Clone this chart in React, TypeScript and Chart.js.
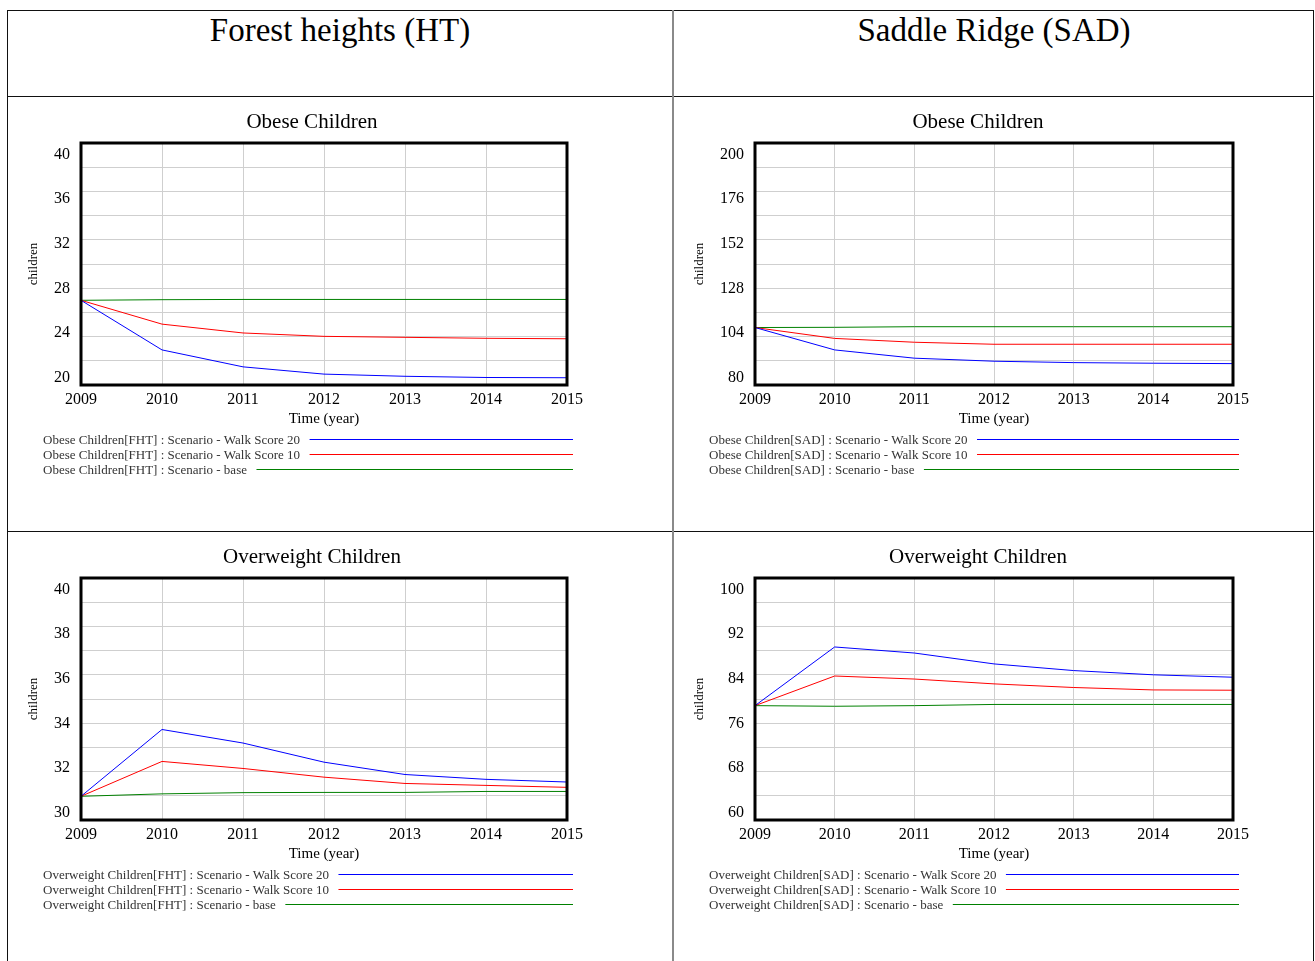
import React, { useEffect, useRef } from "react";
import { Chart, registerables } from "chart.js";

Chart.register(...registerables);

// ---------- data ----------
const years = [2009, 2010, 2011, 2012, 2013, 2014, 2015];

const fhtObeseWS20 = [27.0, 22.9, 21.5, 20.9, 20.72, 20.62, 20.6];
const fhtObeseWS10 = [27.0, 25.03, 24.3, 24.02, 23.94, 23.86, 23.82];
const fhtObeseBase = [27.0, 27.05, 27.07, 27.07, 27.07, 27.07, 27.07];
const fhtObeseTicks = ["40", "36", "32", "28", "24", "20"];

const sadObeseWS20 = [108.5, 97.4, 93.3, 91.8, 91.1, 90.8, 90.6];
const sadObeseWS10 = [108.5, 103.1, 101.2, 100.2, 100.2, 100.2, 100.2];
const sadObeseBase = [108.5, 108.6, 108.9, 108.9, 108.9, 108.9, 108.9];
const sadObeseTicks = ["200", "176", "152", "128", "104", "80"];

const fhtOverWS20 = [30.98, 33.74, 33.18, 32.39, 31.88, 31.68, 31.57];
const fhtOverWS10 = [30.98, 32.42, 32.13, 31.77, 31.51, 31.43, 31.35];
const fhtOverBase = [30.98, 31.08, 31.13, 31.14, 31.14, 31.18, 31.18];
const fhtOverTicks = ["40", "38", "36", "34", "32", "30"];

const sadOverWS20 = [78.9, 88.6, 87.6, 85.8, 84.7, 84.0, 83.6];
const sadOverWS10 = [78.9, 83.8, 83.3, 82.5, 81.9, 81.5, 81.45];
const sadOverBase = [78.9, 78.8, 78.9, 79.1, 79.1, 79.1, 79.1];
const sadOverTicks = ["100", "92", "84", "76", "68", "60"];

const seriesColors = ["#0000ff", "#ff0000", "#008000"];
const scenarioNames = ["Scenario - Walk Score 20", "Scenario - Walk Score 10", "Scenario - base"];

const FONT = '"Liberation Serif", "Times New Roman", serif';

// ---------- plugin drawing Vensim-like decorations ----------
const vensimPlugin = {
  id: "vensim",
  afterDraw(chart: any, _args: any, opts: any) {
    const { ctx, chartArea: a } = chart;
    ctx.save();
    // frame
    ctx.strokeStyle = "#000";
    ctx.lineWidth = 3;
    ctx.strokeRect(a.left, a.top, a.right - a.left, a.bottom - a.top);

    // title
    ctx.fillStyle = "#000";
    ctx.textBaseline = "alphabetic";
    ctx.textAlign = "center";
    ctx.font = `21px ${FONT}`;
    ctx.fillText(opts.title, opts.titleX, a.top - 15.5);

    // y tick labels (evenly spaced inside plot, Vensim style)
    ctx.font = `16px ${FONT}`;
    ctx.textAlign = "right";
    const ticks: string[] = opts.yTicks;
    const c0 = a.top + 10.3;
    const c1 = a.bottom - 8.3;
    ticks.forEach((t, i) => {
      const cy = c0 + (i * (c1 - c0)) / (ticks.length - 1);
      ctx.fillText(t, a.left - 11, cy + 5.4);
    });

    // x tick labels
    ctx.textAlign = "center";
    const xs = chart.scales.x;
    (opts.xTicks as number[]).forEach((v) => {
      ctx.fillText(String(v), xs.getPixelForValue(v), a.bottom + 19);
    });

    // x title
    ctx.font = `15px ${FONT}`;
    ctx.fillText(opts.xTitle, (a.left + a.right) / 2, a.bottom + 37.5);

    // y title
    ctx.save();
    ctx.translate(opts.yTitleX, (a.top + a.bottom) / 2);
    ctx.rotate(-Math.PI / 2);
    ctx.font = `13px ${FONT}`;
    ctx.textAlign = "center";
    ctx.textBaseline = "middle";
    ctx.fillText(opts.yTitle, 0, 0);
    ctx.restore();

    // legend
    ctx.font = `13px ${FONT}`;
    ctx.textAlign = "left";
    ctx.textBaseline = "alphabetic";
    chart.data.datasets.forEach((ds: any, i: number) => {
      const y = Math.round(a.bottom + 53.7 + i * 15.2) + 0.5;
      ctx.fillStyle = "#333";
      ctx.fillText(ds.label, opts.legendX, y + 4);
      const w = ctx.measureText(ds.label).width;
      ctx.strokeStyle = ds.borderColor;
      ctx.lineWidth = 1;
      ctx.beginPath();
      ctx.moveTo(opts.legendX + w + 9.5, y);
      ctx.lineTo(a.right + 6, y);
      ctx.stroke();
    });
    ctx.restore();
  },
};

type ChartProps = {
  left: number;
  top: number;
  width: number;
  height: number;
  plotLeft: number;
  plotRight: number;
  title: string;
  varName: string;
  region: string;
  series: number[][];
  yMin: number;
  yMax: number;
  yStep: number;
  yTicks: string[];
};

function VensimChart(p: ChartProps) {
  const ref = useRef<HTMLCanvasElement>(null);
  useEffect(() => {
    if (!ref.current) return;
    const datasets = p.series.map((vals, i) => ({
      label: `${p.varName}[${p.region}] : ${scenarioNames[i]}`,
      data: years.map((x, j) => ({ x, y: vals[j] })),
      borderColor: seriesColors[i],
      backgroundColor: seriesColors[i],
      borderWidth: 1,
      pointRadius: 0,
      tension: 0,
      fill: false,
    }));
    const gridColor = "#cfcfcf";
    const chart = new Chart(ref.current, {
      type: "line",
      data: { datasets },
      options: {
        responsive: false,
        animation: false,
        devicePixelRatio: 1,
        layout: {
          padding: {
            left: p.plotLeft,
            right: p.width - p.plotRight,
            top: 46,
            bottom: p.height - 288,
          },
        },
        plugins: {
          legend: { display: false },
          tooltip: { enabled: false },
          title: { display: false },
          vensim: {
            title: p.title,
            titleX: 303,
            yTicks: p.yTicks,
            xTicks: years,
            xTitle: "Time (year)",
            yTitle: "children",
            yTitleX: 24.5,
            legendX: 34,
          },
        } as any,
        scales: {
          x: {
            type: "linear",
            min: years[0],
            max: years[years.length - 1],
            ticks: { stepSize: 1, display: false },
            grid: { color: gridColor, drawTicks: false },
            border: { display: false },
            afterFit: (s: any) => {
              s.height = 0;
            },
          },
          y: {
            type: "linear",
            min: p.yMin,
            max: p.yMax,
            ticks: { stepSize: p.yStep, display: false },
            grid: { color: gridColor, drawTicks: false },
            border: { display: false },
            afterFit: (s: any) => {
              s.width = 0;
            },
          },
        },
      } as any,
      plugins: [vensimPlugin],
    });
    return () => chart.destroy();
  }, []);
  return (
    <canvas
      ref={ref}
      width={p.width}
      height={p.height}
      style={{ position: "absolute", left: p.left, top: p.top, width: p.width, height: p.height }}
    />
  );
}

const lineStyle = (left: number, top: number, width: number, height: number, color = "#111"): React.CSSProperties => ({
  position: "absolute",
  left,
  top,
  width,
  height,
  background: color,
});

const headerStyle = (left: number, width: number): React.CSSProperties => ({
  position: "absolute",
  left,
  width,
  top: 13,
  textAlign: "center",
  fontFamily: FONT,
  fontSize: 33,
  lineHeight: "34px",
  color: "#000",
  whiteSpace: "nowrap",
});

export default function App() {
  return (
    <div
      style={{
        position: "fixed",
        left: 0,
        top: 0,
        width: 1315,
        height: 961,
        overflow: "hidden",
        background: "#fff",
      }}
    >
      <VensimChart
        left={9}
        top={97}
        width={663}
        height={433}
        plotLeft={72}
        plotRight={558}
        title="Obese Children"
        varName="Obese Children"
        region="FHT"
        series={[fhtObeseWS20, fhtObeseWS10, fhtObeseBase]}
        yMin={20}
        yMax={40}
        yStep={2}
        yTicks={fhtObeseTicks}
      />
      <VensimChart
        left={675}
        top={97}
        width={637}
        height={433}
        plotLeft={80}
        plotRight={558}
        title="Obese Children"
        varName="Obese Children"
        region="SAD"
        series={[sadObeseWS20, sadObeseWS10, sadObeseBase]}
        yMin={80}
        yMax={200}
        yStep={12}
        yTicks={sadObeseTicks}
      />
      <VensimChart
        left={9}
        top={532}
        width={663}
        height={429}
        plotLeft={72}
        plotRight={558}
        title="Overweight Children"
        varName="Overweight Children"
        region="FHT"
        series={[fhtOverWS20, fhtOverWS10, fhtOverBase]}
        yMin={30}
        yMax={40}
        yStep={1}
        yTicks={fhtOverTicks}
      />
      <VensimChart
        left={675}
        top={532}
        width={637}
        height={429}
        plotLeft={80}
        plotRight={558}
        title="Overweight Children"
        varName="Overweight Children"
        region="SAD"
        series={[sadOverWS20, sadOverWS10, sadOverBase]}
        yMin={60}
        yMax={100}
        yStep={4}
        yTicks={sadOverTicks}
      />

      <div style={headerStyle(7, 666)}>Forest heights (HT)</div>
      <div style={headerStyle(674, 640)}>Saddle Ridge (SAD)</div>

      {/* table borders */}
      <div style={lineStyle(7, 10, 1307, 1)} />
      <div style={lineStyle(7, 10, 1, 951)} />
      <div style={lineStyle(1313, 10, 1, 951)} />
      <div style={lineStyle(7, 96, 1307, 1)} />
      <div style={lineStyle(7, 531, 1307, 1)} />
      <div style={lineStyle(672, 10, 2, 951, "#8a8a8a")} />
    </div>
  );
}
